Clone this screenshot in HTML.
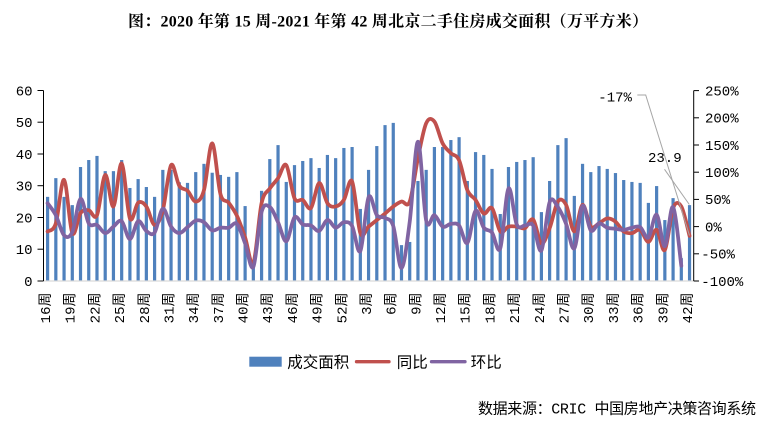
<!DOCTYPE html>
<html><head><meta charset="utf-8">
<style>
html,body{margin:0;padding:0;background:#fff;width:774px;height:423px;overflow:hidden;}
svg{display:block;}
.m{font-family:"Liberation Mono","Noto Sans CJK SC",monospace;font-size:14px;fill:#000;}
.c{font-family:"Liberation Sans","Noto Sans CJK SC",sans-serif;font-size:15.5px;fill:#000;}
</style></head><body>
<svg id="s" width="774" height="423" viewBox="0 0 774 423" xmlns="http://www.w3.org/2000/svg">
<rect width="774" height="423" fill="#fff"/>
<text x="388" y="26.5" text-anchor="middle" font-family="'Liberation Serif','Noto Serif CJK SC',serif" font-weight="bold" font-size="16" textLength="520" lengthAdjust="spacing">图：2020 年第 15 周-2021 年第 42 周北京二手住房成交面积（万平方米）</text>

<g id="bars" fill="#4F81BD"></g>
<line x1="43.5" y1="281" x2="693.7" y2="281" stroke="#D9D9D9" stroke-width="1.2"/>
<path id="red" fill="none" stroke="#C0504D" stroke-width="3.75" stroke-linejoin="round" stroke-linecap="round"/>
<path id="pur" fill="none" stroke="#8064A2" stroke-width="3.75" stroke-linejoin="round" stroke-linecap="round"/>

<!-- left axis -->
<g stroke="#000" stroke-width="1">
<line x1="43.5" y1="90.5" x2="43.5" y2="281"/>
<line x1="37.5" y1="90.5" x2="43.5" y2="90.5"/>
<line x1="37.5" y1="122.2" x2="43.5" y2="122.2"/>
<line x1="37.5" y1="154" x2="43.5" y2="154"/>
<line x1="37.5" y1="185.7" x2="43.5" y2="185.7"/>
<line x1="37.5" y1="217.5" x2="43.5" y2="217.5"/>
<line x1="37.5" y1="249.2" x2="43.5" y2="249.2"/>
<line x1="37.5" y1="281" x2="43.5" y2="281"/>
<!-- right axis -->
<line x1="693.7" y1="90.6" x2="693.7" y2="281"/>
<line x1="693.7" y1="90.6" x2="699" y2="90.6"/>
<line x1="693.7" y1="117.8" x2="699" y2="117.8"/>
<line x1="693.7" y1="145" x2="699" y2="145"/>
<line x1="693.7" y1="172.2" x2="699" y2="172.2"/>
<line x1="693.7" y1="199.4" x2="699" y2="199.4"/>
<line x1="693.7" y1="226.6" x2="699" y2="226.6"/>
<line x1="693.7" y1="253.8" x2="699" y2="253.8"/>
<line x1="693.7" y1="281" x2="699" y2="281"/>
</g>

<g class="m" text-anchor="end">
<text x="32.5" y="95.3">60</text>
<text x="32.5" y="127">50</text>
<text x="32.5" y="158.8">40</text>
<text x="32.5" y="190.5">30</text>
<text x="32.5" y="222.3">20</text>
<text x="32.5" y="254">10</text>
<text x="32.5" y="285.8">0</text>
</g>
<g class="m">
<text x="705" y="95.4">250%</text>
<text x="705" y="122.6">200%</text>
<text x="705" y="149.8">150%</text>
<text x="705" y="177">100%</text>
<text x="705" y="204.2">50%</text>
<text x="705" y="231.4">0%</text>
<text x="701.3" y="258.6">-50%</text>
<text x="701.3" y="285.8">-100%</text>
</g>

<!-- x labels -->
<g class="m" text-anchor="end">
<text transform="translate(45.1,292.5) rotate(-90)" y="4.9">16周</text>
<text transform="translate(69.8,292.5) rotate(-90)" y="4.9">19周</text>
<text transform="translate(94.5,292.5) rotate(-90)" y="4.9">22周</text>
<text transform="translate(119.2,292.5) rotate(-90)" y="4.9">25周</text>
<text transform="translate(143.9,292.5) rotate(-90)" y="4.9">28周</text>
<text transform="translate(168.6,292.5) rotate(-90)" y="4.9">31周</text>
<text transform="translate(193.2,292.5) rotate(-90)" y="4.9">34周</text>
<text transform="translate(217.9,292.5) rotate(-90)" y="4.9">37周</text>
<text transform="translate(242.6,292.5) rotate(-90)" y="4.9">40周</text>
<text transform="translate(267.3,292.5) rotate(-90)" y="4.9">43周</text>
<text transform="translate(292,292.5) rotate(-90)" y="4.9">46周</text>
<text transform="translate(316.7,292.5) rotate(-90)" y="4.9">49周</text>
<text transform="translate(341.4,292.5) rotate(-90)" y="4.9">52周</text>
<text transform="translate(366.1,292.5) rotate(-90)" y="4.9">3周</text>
<text transform="translate(390.8,292.5) rotate(-90)" y="4.9">6周</text>
<text transform="translate(415.5,292.5) rotate(-90)" y="4.9">9周</text>
<text transform="translate(440.1,292.5) rotate(-90)" y="4.9">12周</text>
<text transform="translate(464.8,292.5) rotate(-90)" y="4.9">15周</text>
<text transform="translate(489.5,292.5) rotate(-90)" y="4.9">18周</text>
<text transform="translate(514.2,292.5) rotate(-90)" y="4.9">21周</text>
<text transform="translate(538.9,292.5) rotate(-90)" y="4.9">24周</text>
<text transform="translate(563.6,292.5) rotate(-90)" y="4.9">27周</text>
<text transform="translate(588.3,292.5) rotate(-90)" y="4.9">30周</text>
<text transform="translate(613,292.5) rotate(-90)" y="4.9">33周</text>
<text transform="translate(637.7,292.5) rotate(-90)" y="4.9">36周</text>
<text transform="translate(662.4,292.5) rotate(-90)" y="4.9">39周</text>
<text transform="translate(687,292.5) rotate(-90)" y="4.9">42周</text>
</g>

<!-- annotations -->
<path d="M637.3,95 L645.7,95 L689.5,235.5" fill="none" stroke="#A6A6A6" stroke-width="1"/>
<path d="M664.5,169.3 L689.3,204.5" fill="none" stroke="#A6A6A6" stroke-width="1"/>
<text class="m" x="598.3" y="101.5">-17%</text>
<text class="m" x="648" y="162">23.9</text>

<!-- legend -->
<rect x="249.3" y="356.7" width="32.4" height="10" fill="#4F81BD"/>
<text class="c" x="287.3" y="367.6">成交面积</text>
<line x1="356.5" y1="361.7" x2="389" y2="361.7" stroke="#C0504D" stroke-width="3.3" stroke-linecap="round"/>
<text class="c" x="396.7" y="367.6">同比</text>
<line x1="431.5" y1="361.7" x2="465" y2="361.7" stroke="#8064A2" stroke-width="3.3" stroke-linecap="round"/>
<text class="c" x="470.7" y="367.6">环比</text>

<text x="478" y="413.5" font-family="'Liberation Mono','Noto Sans CJK SC',monospace" font-size="15" textLength="278" lengthAdjust="spacing">数据来源：CRIC 中国房地产决策咨询系统</text>
</svg>
<script>
(function(){
var B=[26.5,32.4,26.5,23.9,35.9,38.1,39.4,34.6,34.6,38.1,29.3,32.1,29.6,26.5,35.0,35.0,31.1,30.9,34.3,36.9,
34.1,33.4,32.8,34.3,23.6,4.5,28.4,38.4,42.8,31.2,36.5,37.8,38.7,35.6,39.7,38.7,41.9,42.2,22.7,35.0,
42.5,49.1,49.8,11.3,12.3,31.5,35.0,42.2,42.2,44.4,45.3,31.5,40.6,39.7,35.3,21.1,35.9,37.5,38.1,39.0,
21.7,31.5,42.8,45.0,26.8,36.9,34.3,36.2,35.3,34.0,31.8,31.2,30.9,24.6,29.9,19.2,26.1,7.2,23.9];
var R=[-9,6,86,-12,25,30,21,95,37,116,15,44,37,3,30,113,75,66,46,67,
153,60,44,20,-20,-67,43,70,89,113,52,49,34,80,43,37,49,83,-12,0,
12,24,37,46,46,126,190,193,153,135,122,67,49,24,34,-9,0,0,-3,13,
-31,-3,46,40,-9,40,0,6,15,9,-9,-12,-6,-28,-6,-43,34,37,-17];
var P=[43,21,-16,-10,51,6,3,-12,0,10,-23,10,-8,-11,33,0,-12,-1,11,8,
-7,-2,-2,5,-31,-74,27,36,8,-27,17,4,2,-8,12,-2,8,1,-45,54,
21,16,1,-76,9,156,11,21,0,5,2,-30,29,-2,-11,-40,70,4,2,2,
-44,45,36,5,-40,38,-7,6,-2,-4,-6,-2,-1,-20,22,-36,36,-72];
function cx(i){return 47.6+8.23*i;}
function yL(v){return 281-v*3.175;}
function yR(p){return 226.6-p*0.544;}
var ns="http://www.w3.org/2000/svg";
var g=document.getElementById("bars");
for(var i=0;i<B.length;i++){
 var r=document.createElementNS(ns,"rect");
 var y=yL(B[i]);
 r.setAttribute("x",(cx(i)-1.6).toFixed(2));
 r.setAttribute("y",y.toFixed(2));
 r.setAttribute("width","3.2");
 r.setAttribute("height",(281-y).toFixed(2));
 g.appendChild(r);
}
function smooth(arr){
 var pts=arr.map(function(v,i){return [cx(i),yR(v)];});
 var f=function(p){return p[0].toFixed(2)+","+p[1].toFixed(2);};
 var d="M"+f(pts[0]);
 for(var i=0;i<pts.length-1;i++){
  var p0=pts[i-1]||pts[i],p1=pts[i],p2=pts[i+1],p3=pts[i+2]||pts[i+1];
  var c1=[p1[0]+(p2[0]-p0[0])/6,p1[1]+(p2[1]-p0[1])/6];
  var c2=[p2[0]-(p3[0]-p1[0])/6,p2[1]-(p3[1]-p1[1])/6];
  d+=" C"+f(c1)+" "+f(c2)+" "+f(p2);
 }
 return d;
}
document.getElementById("red").setAttribute("d",smooth(R));
document.getElementById("pur").setAttribute("d",smooth(P));
})();
</script>
</body></html>
